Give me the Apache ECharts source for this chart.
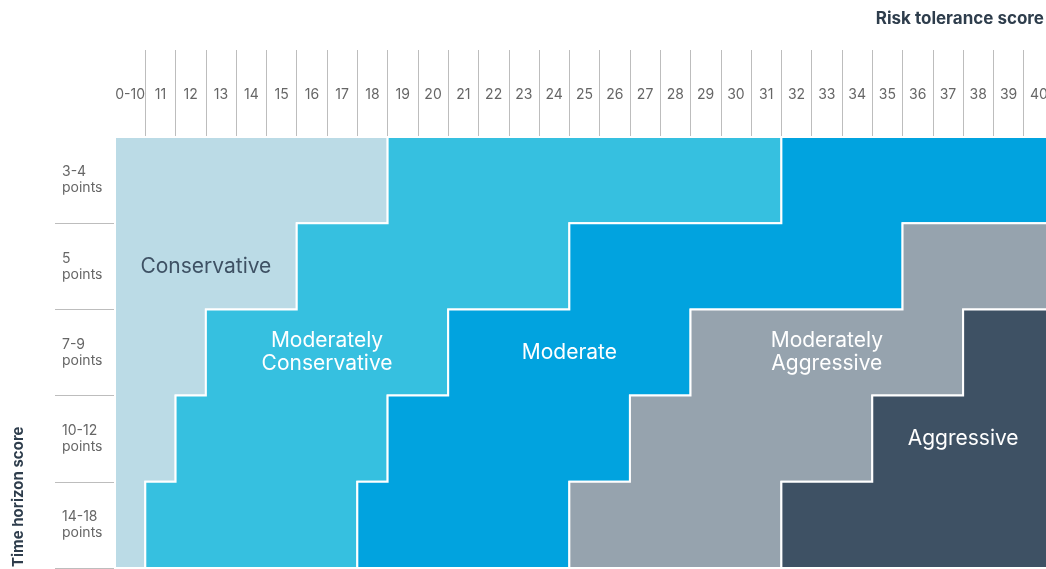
<!DOCTYPE html>
<html>
<head>
<meta charset="utf-8">
<script src="https://cdn.jsdelivr.net/npm/echarts@6/dist/echarts.min.js"></script>
<style>
html,body{margin:0;padding:0;background:#fff;}
#chart{width:1046px;height:569px;}
</style>
</head>
<body>
<div id="chart"></div>
<script>
// Risk tolerance score columns (x) and time horizon score rows (y)
const riskScores = ['0-10','11','12','13','14','15','16','17','18','19','20','21','22','23','24','25','26','27','28','29','30','31','32','33','34','35','36','37','38','39','40'];
const timeRows = ['3-4\npoints','5\npoints','7-9\npoints','10-12\npoints','14-18\npoints'];

// Investment profiles and the range of risk scores each covers in every time-horizon row
const profileNames = ['Conservative','Moderately\nConservative','Moderate','Moderately\nAggressive','Aggressive'];
const conservative  = [['0-10','18'],['0-10','15'],['0-10','12'],['0-10','11'],['0-10','0-10']];
const modConservative = [['19','31'],['16','24'],['13','20'],['12','18'],['11','17']];
const moderate      = [['32','40'],['25','35'],['21','28'],['19','26'],['18','24']];
const modAggressive = [null,['36','40'],['29','37'],['27','34'],['25','31']];
const aggressive    = [null,null,['38','40'],['35','40'],['32','40']];
// row in which each profile's name is written
const labelRow = ['5\npoints','7-9\npoints','7-9\npoints','7-9\npoints','10-12\npoints'];

const profileRanges = [conservative, modConservative, moderate, modAggressive, aggressive];
const profileColors = ['#BBDBE6','#36C0E0','#01A3DF','#96A3AE','#3E5164'];
const labelColors = ['#3E5164','#ffffff','#ffffff','#ffffff','#ffffff'];

const FONT = 'Inter, "Noto Sans", sans-serif';

const chart = echarts.init(document.getElementById('chart'));

function renderProfile(params, api) {
  const p = params.dataIndex;
  const ranges = profileRanges[p];
  const bw = api.size([1, 0])[0];
  const bh = api.size([0, 1])[1];
  const rights = [], lefts = [];
  let labelPos = null;
  ranges.forEach(function (rg, r) {
    if (!rg) return;
    const s = riskScores.indexOf(rg[0]);
    const e = riskScores.indexOf(rg[1]);
    const cs = api.coord([s, r]);
    const ce = api.coord([e, r]);
    const x0 = cs[0] - bw / 2, x1 = ce[0] + bw / 2;
    const y0 = cs[1] - bh / 2, y1 = cs[1] + bh / 2;
    rights.push([x1, y0], [x1, y1]);
    lefts.unshift([x0, y0]);
    lefts.unshift([x0, y1]);
    if (timeRows[r] === labelRow[p]) labelPos = [(x0 + x1) / 2, cs[1]];
  });
  const pts = rights.concat(lefts);
  return {
    type: 'group',
    children: [
      { type: 'polygon', shape: { points: pts },
        style: { fill: profileColors[p], stroke: '#ffffff', lineWidth: 2 } },
      { type: 'text', x: labelPos[0], y: labelPos[1], z2: 10,
        style: { text: profileNames[p], fill: labelColors[p], font: '400 21px ' + FONT,
                 align: 'center', verticalAlign: 'middle', lineHeight: 23 } }
    ]
  };
}

chart.setOption({
  animation: false,
  backgroundColor: '#ffffff',
  title: {
    text: 'Risk tolerance score', right: -3, top: 5,
    textStyle: { fontSize: 17, fontWeight: 'bold', color: '#2E3D4C', fontFamily: FONT }
  },
  graphic: [{
    type: 'text', x: 18, y: 567, rotation: Math.PI / 2,
    style: { text: 'Time horizon score', fill: '#2E3D4C', font: 'bold 15px ' + FONT,
             align: 'left', verticalAlign: 'middle' }
  }],
  grid: { left: 115, top: 137, width: 939, height: 431, containLabel: false, outerBoundsMode: 'none' },
  xAxis: {
    type: 'category', position: 'top', data: riskScores, boundaryGap: true,
    axisLine: { show: false },
    axisTick: { show: true, length: 87, interval: function (i) { return i !== 0; },
                lineStyle: { color: '#bdbdbd', width: 1 } },
    axisLabel: { color: '#666', fontSize: 14, fontFamily: FONT, margin: 35, interval: 0 },
    splitLine: { show: false }
  },
  yAxis: {
    type: 'category', inverse: true, data: timeRows, boundaryGap: true,
    axisLine: { show: false },
    axisTick: { show: true, length: 60, interval: function (i) { return i !== 0; },
                lineStyle: { color: '#bdbdbd', width: 1 } },
    axisLabel: { color: '#666', fontSize: 14, fontFamily: FONT, align: 'left', margin: 53, lineHeight: 16 },
    splitLine: { show: false }
  },
  series: [{
    type: 'custom',
    coordinateSystem: 'cartesian2d',
    renderItem: renderProfile,
    clip: false,
    encode: { x: 0, y: 1 },
    data: profileNames.map(function (n, i) { return { name: n, value: [0, 0] }; })
  }]
});
</script>
</body>
</html>
